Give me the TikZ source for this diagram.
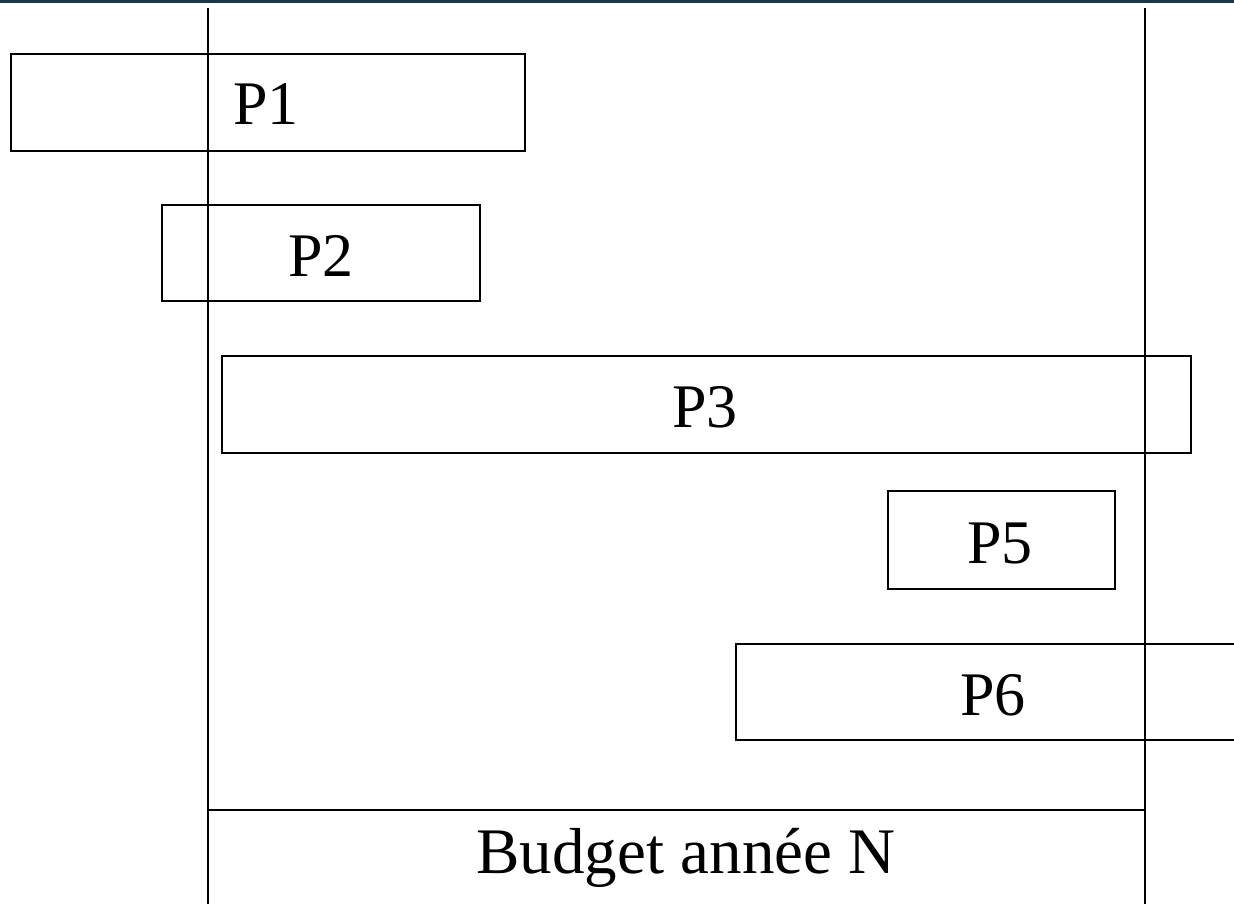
\documentclass[tikz,border=0pt]{standalone}
\usepackage{fontspec}
\setmainfont{Liberation Serif}
\definecolor{topbar}{RGB}{30,52,75}
\begin{document}
\begin{tikzpicture}[x=0.5pt,y=-0.5pt,
  proj/.style={draw=black,line width=1pt,inner sep=0pt,anchor=center,
    font=\fontsize{31}{37}\selectfont},
  lbl/.style={inner sep=0pt,anchor=center,font=\fontsize{31}{37}\selectfont},
  axis/.style={draw=black,line width=1pt}]
\clip (0,0) rectangle (1234,904);
\fill[white] (0,0) rectangle (1234,904);
\fill[topbar] (0,0) rectangle (1234,3);
% vertical year limits
\coordinate (lt) at (208,8);
\coordinate (lb) at (208,904);
\coordinate (rt) at (1145,8);
\coordinate (rb) at (1145,904);
\coordinate (hl) at (208,810);
\coordinate (hr) at (1145,810);
\node[proj,minimum width=257pt,minimum height=48.5pt] (p1) at (268,102.5) {};
\node[proj,minimum width=159pt,minimum height=48pt] (p2) at (321,253) {};
\node[proj,minimum width=484.5pt,minimum height=48.5pt] (p3) at (706.5,404.5) {};
\node[proj,minimum width=113.5pt,minimum height=49pt] (p5) at (1001.5,540) {};
\node[proj,minimum width=257pt,minimum height=48pt] (p6) at (993,692) {};
\draw[axis] (lt) -- (lb);
\draw[axis] (rt) -- (rb);
\draw[axis] (hl) -- (hr);
\node[lbl] (t1) at (266,104) {P1};
\node[lbl] (t2) at (321,256) {P2};
\node[lbl] (t3) at (705,407) {P3};
\node[lbl] (t5) at (1000,543) {P5};
\node[lbl] (t6) at (993,695) {P6};
\node[lbl,font=\fontsize{32.5}{38}\selectfont] (bud) at (686,858) {Budget année N};
\end{tikzpicture}
\end{document}
